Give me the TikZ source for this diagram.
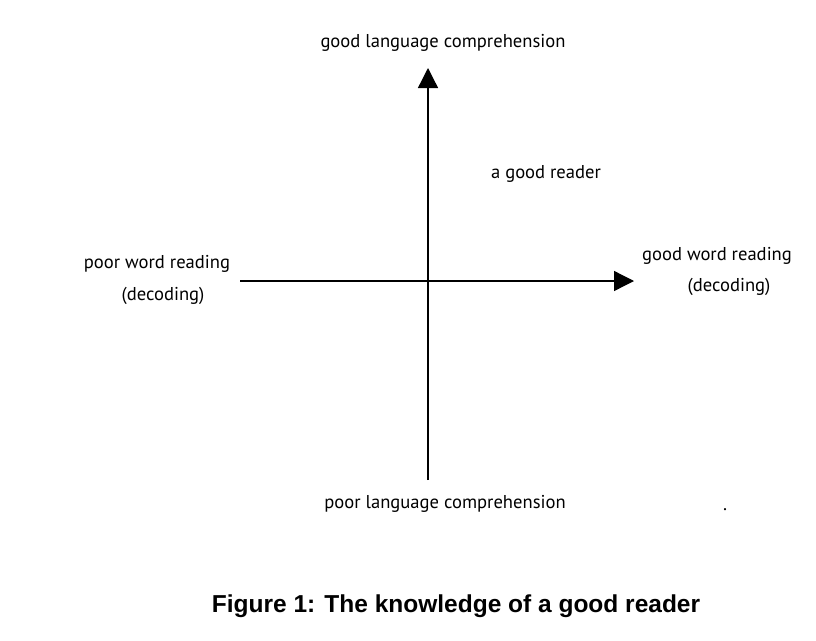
\documentclass[tikz,border=0pt]{standalone}
\usepackage{fontspec}
\setmainfont{PT Sans}
\newfontfamily\capfont{Liberation Sans}
\usetikzlibrary{arrows.meta}
\begin{document}
\begin{tikzpicture}[x=1pt,y=-1pt,
  lbl/.style={font=\fontsize{18.6}{22}\selectfont, inner sep=0pt, align=center},
  axis/.style={line width=1.3pt, -{Triangle[length=20pt,width=20pt]}}]
\useasboundingbox (0,0) rectangle (816,640);
\coordinate (vb) at (428,480);
\coordinate (vt) at (428,68);
\coordinate (hl) at (240,281);
\coordinate (hr) at (634,281);
\draw[axis] (vb) -- (vt);
\draw[axis] (hl) -- (hr);
\node[lbl] (gl) at (443,43) {good language comprehension};
\node[lbl] (gr) at (546,174) {a good reader};
\node[lbl] (pw) at (157,264) {poor word reading};
\node[lbl] (pd) at (163,296) {(decoding)};
\node[lbl] (gw) at (717,256) {good word reading};
\node[lbl] (gd) at (729,287) {(decoding)};
\node[lbl] (pl) at (445,504) {poor language comprehension};
\node[lbl] (dot) at (725,510) {.};
\node[inner sep=0pt, font=\capfont\bfseries\fontsize{24.5}{28}\selectfont] (cap) at (456,606) {Figure 1: The knowledge of a good reader};
\end{tikzpicture}
\end{document}
